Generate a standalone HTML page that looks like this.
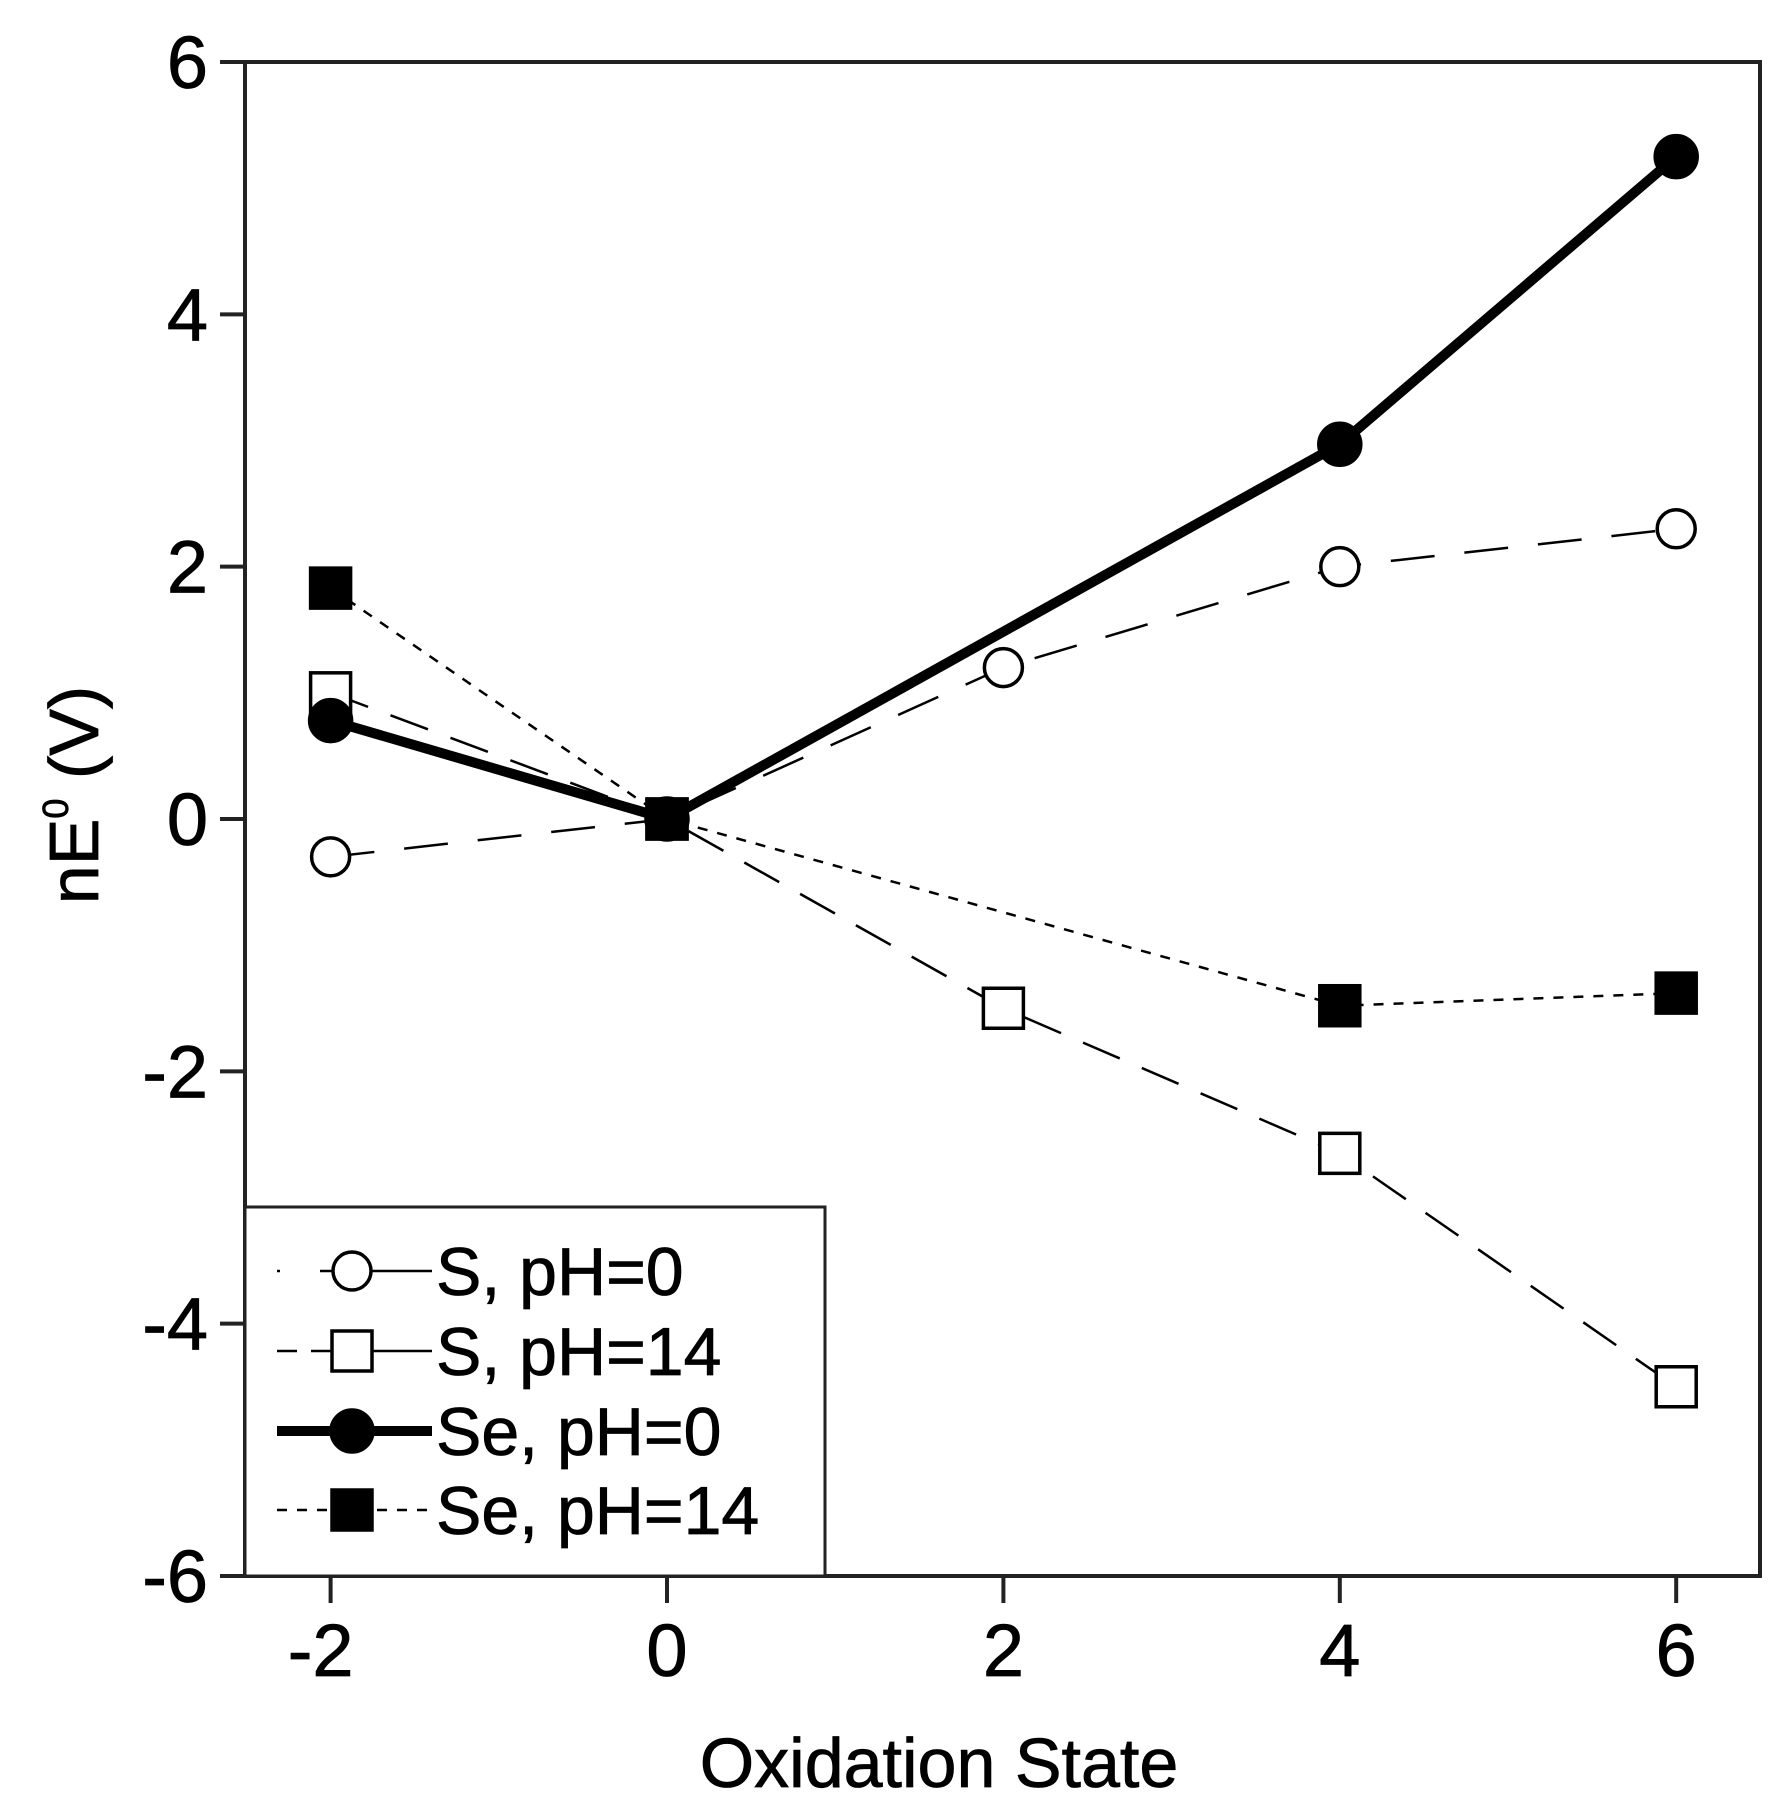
<!DOCTYPE html>
<html><head><meta charset="utf-8"><style>
body{margin:0;background:#fff}
svg{display:block;font-family:"Liberation Sans",sans-serif}
</style></head><body>
<svg id="chart" width="1781" height="1807" viewBox="0 0 1781 1807" xmlns="http://www.w3.org/2000/svg">
<rect x="245" y="62" width="1515" height="1514" fill="none" stroke="#222" stroke-width="4"/>
<g id="axes"></g>
<g id="series"></g>
<text x="939" y="1787" font-size="70" text-anchor="middle" stroke="#000" stroke-width="0.8">Oxidation State</text>
<text transform="translate(98,795) rotate(-90)" font-size="70" text-anchor="middle" stroke="#000" stroke-width="0.8">nE<tspan dy="-30" font-size="36">0</tspan><tspan dy="30"> (V)</tspan></text>
<g>
<rect x="245" y="1207" width="580" height="369" fill="#fff" stroke="#222" stroke-width="3"/>
<g id="legend"></g>
</g>
</svg>
<script>
const xCats=[-2,0,2,4,6];
const xTicks=[-2,0,2,4,6];
const yTicks=[-6,-4,-2,0,2,4,6];
const sPh0X=[-2,0,2,4,6];
const sPh0Y=[-0.3,0,1.2,2.0,2.3];
const sPh14X=[-2,0,2,4,6];
const sPh14Y=[1.0,0,-1.5,-2.65,-4.5];
const sePh0X=[-2,0,4,6];
const sePh0Y=[0.78,0,2.97,5.25];
const sePh14X=[-2,0,4,6];
const sePh14Y=[1.83,0,-1.48,-1.38];
const seriesNames=["S, pH=0","S, pH=14","Se, pH=0","Se, pH=14"];

const NS="http://www.w3.org/2000/svg";
const xs=v=>667+v*168.2;
const ys=v=>819-v*126.17;
function mk(tag,attrs,parent){const e=document.createElementNS(NS,tag);for(const k in attrs)e.setAttribute(k,attrs[k]);parent.appendChild(e);return e;}
const axes=document.getElementById('axes');
xTicks.forEach(t=>{
  const l=mk('line',{x1:xs(t),x2:xs(t),y1:1576,y2:1603,stroke:'#222','stroke-width':4},axes);
  
  
  const tx=mk('text',{x:xs(t)-(t<0?10:0),y:1676,'font-size':74,'text-anchor':'middle',stroke:'#000','stroke-width':0.8},axes);
  tx.textContent=t;
  
  
});
yTicks.forEach(t=>{
  const l=mk('line',{x1:220,x2:245,y1:ys(t),y2:ys(t),stroke:'#222','stroke-width':4},axes);
  
  
  const tx=mk('text',{x:208,y:ys(t)+26,'font-size':74,'text-anchor':'end',stroke:'#000','stroke-width':0.8},axes);
  tx.textContent=t;
  
  
});
const styles=[
 {X:sPh0X,Y:sPh0Y,w:2.5,dash:'44 30',m:'circle',fill:'#fff',name:'s-ph0'},
 {X:sPh14X,Y:sPh14Y,w:2.5,dash:'40 24',m:'square',fill:'#fff',name:'s-ph14'},
 {X:sePh14X,Y:sePh14Y,w:2.5,dash:'10 10',m:'square',fill:'#000',name:'se-ph14'},
 {X:sePh0X,Y:sePh0Y,w:10,dash:'',m:'circle',fill:'#000',name:'se-ph0'}
];
const ser=document.getElementById('series');
function marker(type,cx,cy,fill,parent){
  if(type==='circle') return mk('circle',{cx:cx,cy:cy,r:fill==='#000'?21:19,fill:fill,stroke:'#000','stroke-width':3.5},parent);
  return mk('rect',{x:cx-20,y:cy-20,width:40,height:40,fill:fill,stroke:'#000','stroke-width':3.5},parent);
}
styles.forEach(s=>{
  const g=mk('g',{},ser);
  
  
  const pts=s.X.map((x,i)=>xs(x)+','+ys(s.Y[i])).join(' ');
  const pl=mk('polyline',{points:pts,fill:'none',stroke:'#000','stroke-width':s.w,'stroke-dasharray':s.dash,'stroke-linejoin':'round'},g);
  
  
  s.X.forEach((x,i)=>{
    const m=marker(s.m,xs(x),ys(s.Y[i]),s.fill,g);
    
    
  });
});
const leg=document.getElementById('legend');
const legStyles=[styles[0],styles[1],styles[3],styles[2]];
const rowsY=[1271,1351,1431,1510];
const legDash=['3 40 200 0','20 14 200 0','','10 10'];
legStyles.forEach((s,i)=>{
  const g=mk('g',{},leg);
  
  
  mk('line',{x1:277,x2:432,y1:rowsY[i],y2:rowsY[i],stroke:'#000','stroke-width':s.w,'stroke-dasharray':legDash[i]},g);
  marker(s.m,352,rowsY[i],s.fill,g);
  const t=mk('text',{x:436,y:rowsY[i]+24,'font-size':68,stroke:'#000','stroke-width':0.8},g);
  t.textContent=seriesNames[i];
});
</script>
</body></html>
